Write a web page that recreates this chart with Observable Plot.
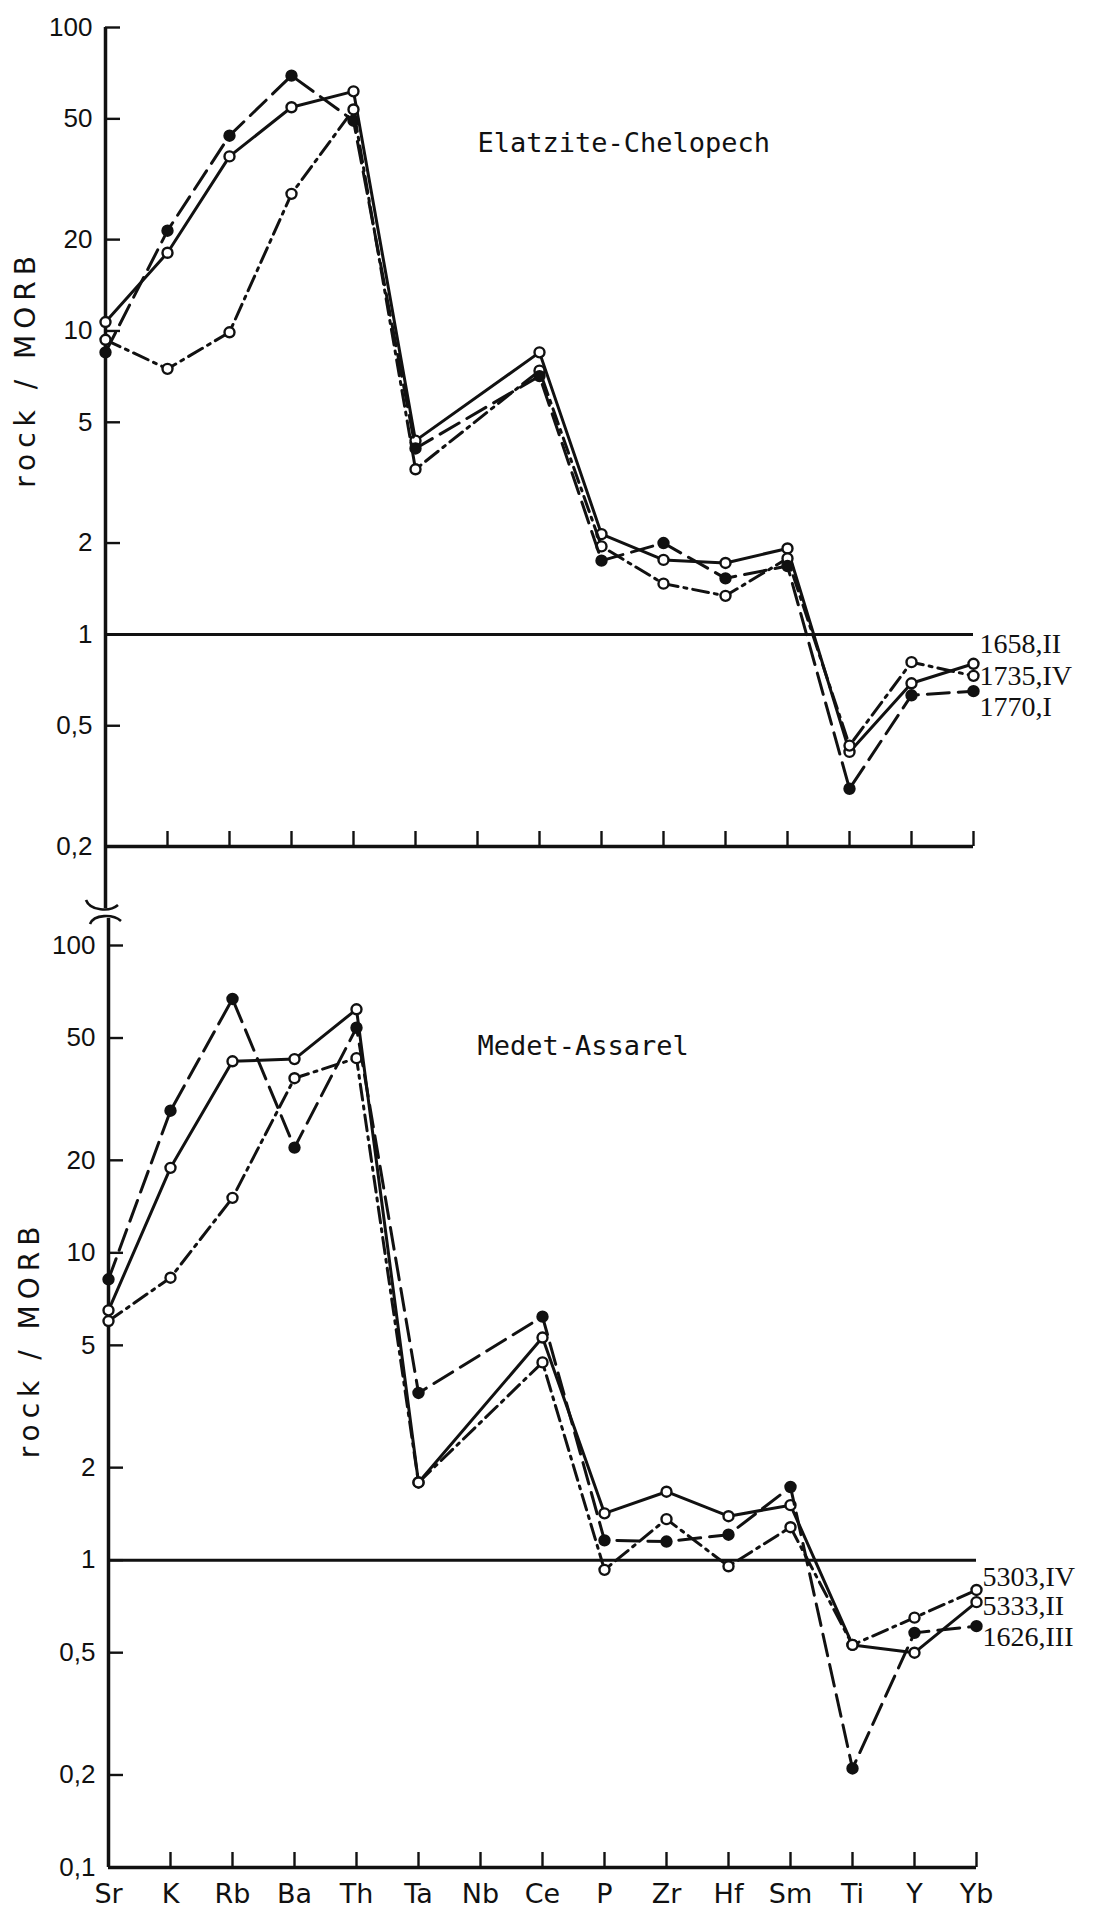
<!DOCTYPE html>
<html><head><meta charset="utf-8">
<script src="https://cdn.jsdelivr.net/npm/d3@7"></script>
<script src="https://cdn.jsdelivr.net/npm/@observablehq/plot@0.6"></script>
<style>
body{margin:0;background:#fff;}
#chart{position:relative;width:1100px;height:1908px;background:#fff;}
#chart svg{position:absolute;left:0;}
</style></head><body><div id="chart"></div>
<script>
// ---------- data ----------
const elements = ["Sr","K","Rb","Ba","Th","Ta","Nb","Ce","P","Zr","Hf","Sm","Ti","Y","Yb"];

// Elatzite-Chelopech
const s1658 = [10.7,18.1,37.6,54.6,61.6,4.35,null,8.5,2.14,1.76,1.72,1.92,0.41,0.69,0.80];
const s1735 = [9.35,7.5,9.9,28.3,53.7,3.5,null,7.4,1.95,1.47,1.34,1.78,0.43,0.81,0.73];
const s1770 = [8.5,21.4,44,69.4,49.3,4.1,null,7.1,1.75,2.0,1.53,1.68,0.31,0.63,0.65];

// Medet-Assarel
const s5303 = [6.0,8.3,15.1,37,43,1.79,null,4.4,0.93,1.36,0.955,1.28,0.53,0.65,0.80];
const s5333 = [6.5,18.9,42,42.7,62,1.79,null,5.3,1.42,1.67,1.39,1.51,0.53,0.50,0.73];
const s1626 = [8.2,29,67,22,54,3.5,null,6.2,1.16,1.15,1.21,1.73,0.21,0.58,0.61];

const topTicks = [100,50,20,10,5,2,1,0.5,0.2];
const topTickText = ["100","50","20","10","5","2","1","0,5","0,2"];
const bottomTicks = [100,50,20,10,5,2,1,0.5,0.2,0.1];
const bottomTickText = ["100","50","20","10","5","2","1","0,5","0,2","0,1"];

const topNames = ["1658,II","1735,IV","1770,I"];
const bottomNames = ["5303,IV","5333,II","1626,III"];
const topTitle = "Elatzite-Chelopech";
const bottomTitle = "Medet-Assarel";
const yTitle = "rock / MORB";

// ---------- styles ----------
const INK = "#111";
const LW = 3;
const DASH = {solid: null, dashed: "22,9", dashdot: "16,6,3,6"};
const numFont = "'Liberation Sans',Arial,sans-serif";
const labFont = "'Liberation Serif','DejaVu Serif',serif";
const sansFont = "'DejaVu Sans',sans-serif";

function rows(vals){
  return elements.map((e,i)=>({el:e, v:vals[i]})).filter(d=>d.v!=null);
}

function panel(cfg){
  const {series, ticks, tickText, height, marginTop, marginBottom, marginLeft, marginRight,
         title, titleDx, titleDy, yLabelDy, axisTopExt, axisBottomExt, xLabels} = cfg;
  const lo = ticks[ticks.length-1], hi = ticks[0];
  const first = () => elements[0], last = () => elements[elements.length-1];
  const marks = [
    Plot.ruleY([1], {y: d=>d, x1: first, x2: last, stroke: INK, strokeWidth: LW}),
    Plot.ruleY([lo], {y: d=>d, x1: first, x2: last, stroke: INK, strokeWidth: LW+0.5}),
    Plot.ruleX(elements.slice(1), {x: d=>d, y1: lo, y2: lo, insetTop: -15, stroke: INK, strokeWidth: 2.4}),
    Plot.ruleX([elements[0]], {x: d=>d, y1: hi, y2: lo, insetTop: -axisTopExt, insetBottom: -axisBottomExt, stroke: INK, strokeWidth: LW+0.5}),
    Plot.ruleY(ticks, {y: d=>d, x1: first, x2: first, insetRight: -15, stroke: INK, strokeWidth: 2.4}),
    Plot.text(ticks, {y: d=>d, x: first, text: (d,i)=>tickText[i], textAnchor: "end", dx: -13,
      fontSize: 26, fontFamily: numFont, fill: INK}),
    Plot.text([title], {text: d=>d, frameAnchor: "top-left", dx: titleDx, dy: titleDy, textAnchor: "start",
      lineAnchor: "middle", fontSize: 27, fontFamily: "'DejaVu Sans Mono',monospace", fill: INK}),
    Plot.text([yTitle], {text: d=>d, frameAnchor: "left", textAnchor: "middle", rotate: -90, dx: -74, dy: yLabelDy,
      fontSize: 28, fontFamily: sansFont, fill: INK})
  ];
  for (const s of series) {
    const data = rows(s.values);
    marks.push(Plot.line(data, {x: "el", y: "v", stroke: INK, strokeWidth: LW,
      strokeDasharray: DASH[s.style], strokeLinejoin: "miter"}));
    marks.push(Plot.dot(data, {x: "el", y: "v", r: 5, fill: s.filled ? INK : "#fff",
      stroke: INK, strokeWidth: 2.4}));
    marks.push(Plot.text(data.slice(-1), {x: "el", y: "v", text: () => s.name, textAnchor: "start",
      dx: 6, dy: s.labelDy, fontSize: 28, fontFamily: labFont, fill: INK}));
  }
  if (xLabels) {
    marks.push(Plot.text(elements, {x: d=>d, frameAnchor: "bottom", dy: 27,
      lineAnchor: "middle", fontSize: 27, fontFamily: sansFont, fill: INK}));
  }
  const svg = Plot.plot({
    width: 1100, height, marginLeft, marginRight, marginTop, marginBottom,
    x: {type: "point", domain: elements, padding: 0, axis: null},
    y: {type: "log", domain: [lo, hi], axis: null},
    style: {background: "transparent", overflow: "visible"},
    marks
  });
  d3.select(svg).selectAll("text").filter(function(){ return this.textContent === yTitle; })
    .style("letter-spacing", "6px");
  return svg;
}

const chart = document.getElementById("chart");

const topSvg = panel({
  series: [
    {name: topNames[0], values: s1658, style: "solid", filled: false, labelDy: -20},
    {name: topNames[1], values: s1735, style: "dashdot", filled: false, labelDy: 0},
    {name: topNames[2], values: s1770, style: "dashed", filled: true, labelDy: 16}
  ],
  ticks: topTicks, tickText: topTickText, height: 915, marginTop: 27, marginBottom: 69,
  marginLeft: 100, marginRight: 122,
  title: topTitle, titleDx: 377, titleDy: 116, yLabelDy: -68, axisTopExt: 0, axisBottomExt: 62, xLabels: false
});
topSvg.style.top = "0px";
chart.appendChild(topSvg);
// axis break (upper half)
d3.select(topSvg).append("path")
  .attr("d", "M86,900 C90,911 110,912 118,905")
  .attr("fill", "none").attr("stroke", INK).attr("stroke-width", 2.6);

const bottomSvg = panel({
  series: [
    {name: bottomNames[0], values: s5303, style: "dashdot", filled: false, labelDy: -13},
    {name: bottomNames[1], values: s5333, style: "solid", filled: false, labelDy: 4},
    {name: bottomNames[2], values: s1626, style: "dashed", filled: true, labelDy: 11}
  ],
  ticks: bottomTicks, tickText: bottomTickText, height: 993, marginTop: 30, marginBottom: 41,
  marginLeft: 104, marginRight: 120,
  title: bottomTitle, titleDx: 373, titleDy: 101, yLabelDy: -67, axisTopExt: 27, axisBottomExt: 0, xLabels: true
});
bottomSvg.style.top = "915px";
chart.appendChild(bottomSvg);
// axis break (lower half)
d3.select(bottomSvg).append("path")
  .attr("d", "M90,9 C94,-1 113,-1 121,6")
  .attr("fill", "none").attr("stroke", INK).attr("stroke-width", 2.6);
</script></body></html>
